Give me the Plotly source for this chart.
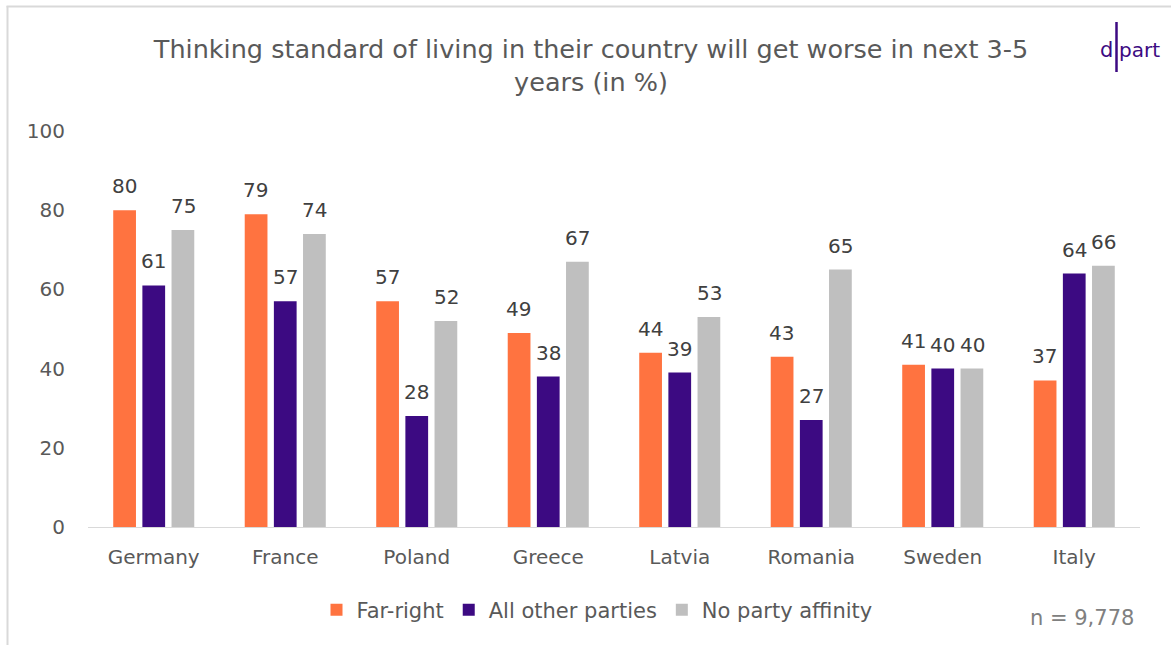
import plotly.graph_objects as go

countries = ["Germany", "France", "Poland", "Greece", "Latvia", "Romania", "Sweden", "Italy"]
far_right = [80, 79, 57, 49, 44, 43, 41, 37]
other_parties = [61, 57, 28, 38, 39, 27, 40, 64]
no_affinity = [75, 74, 52, 67, 53, 65, 40, 66]

series_names = ["Far-right", "All other parties", "No party affinity"]
series_colors = ["#FF7340", "#3C0A82", "#BFBFBF"]

FONT = "DejaVu Sans"
W, H = 1171, 645
L, R, T, B = 88, 31, 131, 118
PW, PH = W - L - R, H - T - B
BAR_PITCH = 29.5  # horizontal distance between bars of one group, px


def px_x(px):
    return (px - L) / PW


def px_y(py):
    return (H - B - py) / PH


fig = go.Figure()
all_series = [far_right, other_parties, no_affinity]
for name, vals, col in zip(series_names, all_series, series_colors):
    fig.add_trace(go.Bar(
        x=countries, y=vals, name=name,
        marker=dict(color=col, line=dict(width=0)),
    ))

# value labels above each bar
for k, vals in enumerate(all_series):
    for c, v in zip(countries, vals):
        fig.add_annotation(
            x=c, y=v, xref="x", yref="y", text=str(v), showarrow=False,
            xshift=(k - 1) * BAR_PITCH, yshift=24, yanchor="middle",
            font=dict(family=FONT, size=20, color="#404040"),
        )

fig.update_layout(
    width=W, height=H,
    margin=dict(l=L, r=R, t=T, b=B),
    paper_bgcolor="white", plot_bgcolor="white",
    barmode="group", bargap=0.335, bargroupgap=0.22,
    font=dict(family=FONT, color="#595959"),
    title=dict(
        text="Thinking standard of living in their country will get worse in next 3-5<br>years (in %)",
        x=591 / W, xanchor="center",
        y=1 - 58 / H, yanchor="middle",
        font=dict(family=FONT, size=25.5, color="#595959"),
    ),
    xaxis=dict(
        showline=True, linecolor="#D9D9D9", linewidth=1,
        ticks="", ticklabelstandoff=12,
        tickfont=dict(family=FONT, size=20, color="#595959"),
        showgrid=False,
    ),
    yaxis=dict(
        range=[0, 100], dtick=20, showgrid=False, zeroline=False,
        showline=False, ticks="", ticklabelstandoff=22,
        tickfont=dict(family=FONT, size=20, color="#595959"),
    ),
    showlegend=True,
    legend=dict(
        orientation="h", x=px_x(597), xanchor="center",
        y=px_y(610), yanchor="middle",
        font=dict(family=FONT, size=21, color="#595959"),
        traceorder="normal",
    ),
)

# sample size note
fig.add_annotation(
    text="n = 9,778", xref="paper", yref="paper",
    x=px_x(1082), y=px_y(618), xanchor="center", yanchor="middle",
    showarrow=False, font=dict(family=FONT, size=21, color="#808080"),
)

# d|part logo
logo_col = "#3C0A82"
fig.add_annotation(
    text="d", xref="paper", yref="paper", x=px_x(1115), y=px_y(50),
    xanchor="right", yanchor="middle", showarrow=False,
    font=dict(family=FONT, size=21, color=logo_col),
)
fig.add_annotation(
    text="part", xref="paper", yref="paper", x=px_x(1117), y=px_y(50),
    xanchor="left", yanchor="middle", showarrow=False,
    font=dict(family=FONT, size=20, color=logo_col),
)
fig.add_shape(type="line", xref="paper", yref="paper",
              x0=px_x(1116.5), x1=px_x(1116.5), y0=px_y(22), y1=px_y(72),
              line=dict(color=logo_col, width=2.5))

# frame edges on the left and top
fig.add_shape(type="line", xref="paper", yref="paper",
              x0=px_x(7.5), x1=px_x(7.5), y0=px_y(6), y1=px_y(650),
              line=dict(color="#D9D9D9", width=2))
fig.add_shape(type="line", xref="paper", yref="paper",
              x0=px_x(6.5), x1=px_x(1180), y0=px_y(6.5), y1=px_y(6.5),
              line=dict(color="#D9D9D9", width=2))

fig.write_html("out.html")
